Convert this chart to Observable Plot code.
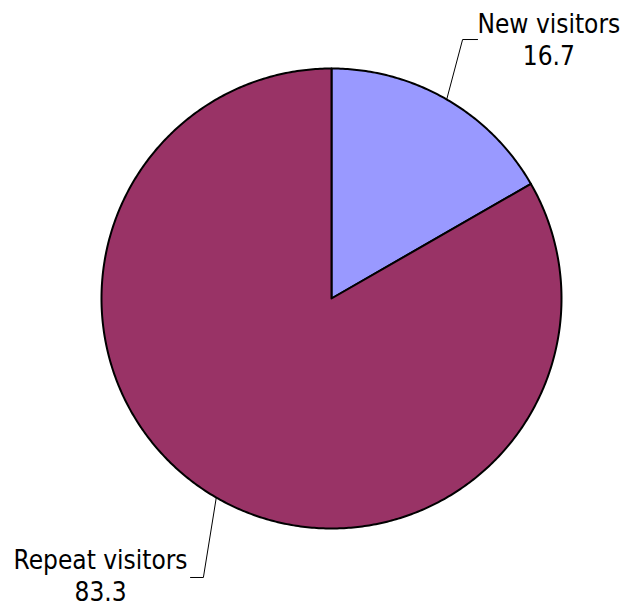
<!DOCTYPE html>
<html>
<head>
<meta charset="utf-8">
<script src="https://cdn.jsdelivr.net/npm/d3@7"></script>
<script src="https://cdn.jsdelivr.net/npm/@observablehq/plot@0.6"></script>
<style>
  html, body { margin: 0; padding: 0; background: #fff; }
  #chart { width: 623px; height: 606px; }
</style>
</head>
<body>
<div id="chart"></div>
<script>
// ---- data ----
const categories = ["New visitors", "Repeat visitors"];
const values = [16.7, 83.3];
const colors = ["#9999FF", "#993366"];

// ---- layout (not data) ----
const R = 1; // radius in data units
const leaders = {
  "New visitors":    {elbow: [0.570, 1.126], end: [0.635, 1.126], text: [0.945, 1.130]},
  "Repeat visitors": {elbow: [-0.557, -1.213], end: [-0.613, -1.213], text: [-1.004, -1.200]}
};

const pie = d3.pie().sort(null).value(d => d.value)(
  categories.map((c, i) => ({label: c, value: values[i]}))
);

const slicePts = [];
for (const a of pie) {
  slicePts.push({label: a.data.label, x: 0, y: 0});
  const n = Math.max(2, Math.ceil((a.endAngle - a.startAngle) / 0.01));
  for (let k = 0; k <= n; k++) {
    const t = a.startAngle + (a.endAngle - a.startAngle) * k / n;
    slicePts.push({label: a.data.label, x: R * Math.sin(t), y: R * Math.cos(t)});
  }
}

const leaderPts = [];
const labelRows = [];
for (const a of pie) {
  const m = (a.startAngle + a.endAngle) / 2;
  const L = leaders[a.data.label];
  leaderPts.push({label: a.data.label, x: R * Math.sin(m), y: R * Math.cos(m)});
  leaderPts.push({label: a.data.label, x: L.elbow[0], y: L.elbow[1]});
  leaderPts.push({label: a.data.label, x: L.end[0], y: L.end[1]});
  labelRows.push({label: a.data.label, value: a.data.value, x: L.text[0], y: L.text[1]});
}

const chart = Plot.plot({
  width: 623,
  height: 606,
  marginLeft: 101,
  marginRight: 62,
  marginTop: 68,
  marginBottom: 78,
  x: {domain: [-1, 1], axis: null},
  y: {domain: [-1, 1], axis: null},
  color: {domain: categories, range: colors},
  style: {fontFamily: "'DejaVu Sans Condensed', 'DejaVu Sans', sans-serif", background: "#fff", overflow: "visible"},
  marks: [
    Plot.line(slicePts, {x: "x", y: "y", z: "label", fill: "label", stroke: "#000", strokeWidth: 2, curve: "linear-closed", strokeLinejoin: "round"}),
    Plot.line(leaderPts, {x: "x", y: "y", z: "label", stroke: "#000", strokeWidth: 1}),
    Plot.text(labelRows, {x: "x", y: "y", text: d => `${d.label}\n${d.value}`, fontSize: 26, lineHeight: 1.24, fill: "#000", textAnchor: "middle", lineAnchor: "middle"})
  ]
});
document.getElementById("chart").appendChild(chart);
</script>
</body>
</html>
